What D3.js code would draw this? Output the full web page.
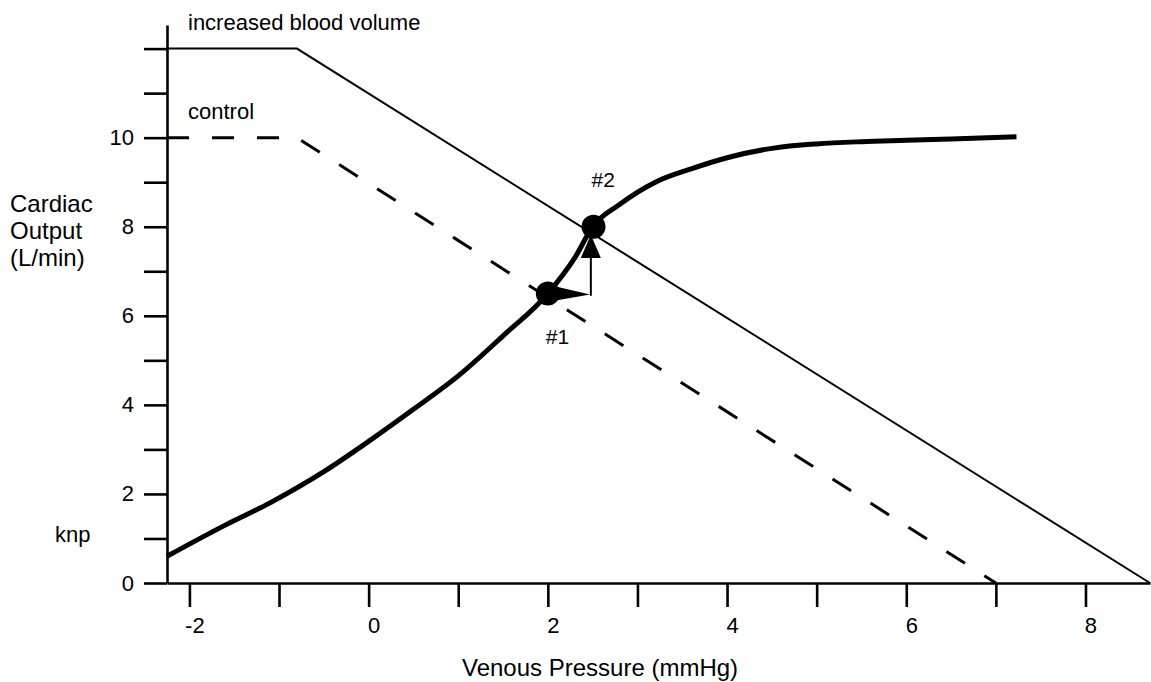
<!DOCTYPE html>
<html lang="en">
  <head>
    <meta charset="UTF-8" />
    <script src="https://cdnjs.cloudflare.com/ajax/libs/d3/7.8.5/d3.min.js"></script>
    <title>Cardiac output vs venous pressure</title>
    <style>
      html, body { margin: 0; padding: 0; background: #fff; }
      svg { display: block; font-family: "Liberation Sans", Arial, Helvetica, sans-serif; }
    </style>
  </head>
  <body>
    <svg width="1151" height="682" class="svg"></svg>
    <script>
      // ---- data ----
      const xTicks = [-2, -1, 0, 1, 2, 3, 4, 5, 6, 7, 8];
      const xTickLabels = ['-2', '', '0', '', '2', '', '4', '', '6', '', '8'];
      const yTicks = [0, 1, 2, 3, 4, 5, 6, 7, 8, 9, 10, 11, 12];
      const yTickLabels = ['0', '', '2', '', '4', '', '6', '', '8', '', '10', '', ''];

      // venous return curves
      const controlX = [-2.25, -0.8, 7.0];
      const controlY = [10, 10, 0];
      const increasedX = [-2.25, -0.8, 8.72];
      const increasedY = [12, 12, 0];

      // cardiac function curve
      const cardiacX = [-2.25, -1.6, -1.1, -0.5, 0, 0.5, 1.0, 1.5, 2.0, 2.3, 2.5, 2.8, 3.2, 3.6, 4.0, 4.5, 5.0, 5.5, 6.0, 6.5, 7.23];
      const cardiacY = [0.6, 1.3, 1.8, 2.5, 3.18, 3.9, 4.65, 5.55, 6.5, 7.3, 8.0, 8.5, 9.0, 9.3, 9.55, 9.76, 9.86, 9.91, 9.94, 9.97, 10.02];

      // equilibrium points
      const pointNames = ['#1', '#2'];
      const pointX = [2.0, 2.51];
      const pointY = [6.5, 8.0];

      const svg = d3.select('.svg');

      const x = d3.scaleLinear().domain([-2.25, 8.72]).range([167, 1150]);
      const y = d3.scaleLinear().domain([0, 12.53]).range([583, 25]);

      const zip = (xs, ys) => xs.map((v, i) => [v, ys[i]]);
      const line = d3.line().x(d => x(d[0])).y(d => y(d[1]));

      // axes
      const yAxis = d3.axisLeft(y)
        .tickValues(yTicks)
        .tickFormat((d, i) => yTickLabels[i])
        .tickSize(23)
        .tickSizeOuter(0)
        .tickPadding(10);
      const xAxis = d3.axisBottom(x)
        .tickValues(xTicks)
        .tickFormat((d, i) => xTickLabels[i])
        .tickSize(24)
        .tickSizeOuter(0)
        .tickPadding(10);

      const gx = svg.append('g')
        .attr('transform', `translate(0, ${y(0)})`)
        .call(xAxis);
      const gy = svg.append('g')
        .attr('transform', `translate(${x.range()[0]}, 0)`)
        .call(yAxis);

      [gx, gy].forEach(g => {
        g.selectAll('path, line').attr('stroke', '#000').attr('stroke-width', 2.6);
        g.selectAll('text').attr('font-size', 22).attr('fill', '#000')
          .attr('font-family', '"Liberation Sans", Arial, Helvetica, sans-serif');
      });
      gx.selectAll('text').attr('dx', 5);

      // venous return lines
      svg.append('path')
        .datum(zip(controlX, controlY))
        .attr('d', line)
        .attr('fill', 'none')
        .attr('stroke', '#000')
        .attr('stroke-width', 3)
        .attr('stroke-dasharray', '22,23');

      svg.append('path')
        .datum(zip(increasedX, increasedY))
        .attr('d', line)
        .attr('fill', 'none')
        .attr('stroke', '#000')
        .attr('stroke-width', 2);

      // cardiac function curve
      svg.append('path')
        .datum(zip(cardiacX, cardiacY))
        .attr('d', line.curve(d3.curveMonotoneX))
        .attr('fill', 'none')
        .attr('stroke', '#000')
        .attr('stroke-width', 5);

      // arrows between the two points
      const ax = 2.48;
      svg.append('path')
        .attr('d', `M${x(pointX[0]) + 8},${y(pointY[0]) - 7} L${x(2.47)},${y(pointY[0]) + 1} L${x(pointX[0]) + 8},${y(pointY[0]) + 7} Z`)
        .attr('fill', '#000');
      svg.append('line')
        .attr('x1', x(ax)).attr('x2', x(ax))
        .attr('y1', y(6.45)).attr('y2', y(7.3))
        .attr('stroke', '#000')
        .attr('stroke-width', 2);
      svg.append('path')
        .attr('d', `M${x(ax) - 10},${y(7.3)} L${x(ax)},${y(7.82)} L${x(ax) + 10},${y(7.3)} Z`)
        .attr('fill', '#000');

      svg.selectAll('circle.pt')
        .data(zip(pointX, pointY))
        .enter()
        .append('circle')
        .attr('class', 'pt')
        .attr('cx', d => x(d[0]))
        .attr('cy', d => y(d[1]))
        .attr('r', 12)
        .attr('fill', '#000');

      // annotations
      const txt = (s, tx, ty, size, anchor) => svg.append('text')
        .text(s)
        .attr('x', tx).attr('y', ty)
        .attr('font-size', size)
        .attr('text-anchor', anchor || 'start')
        .attr('fill', '#000');

      txt(pointNames[0], x(pointX[0]) - 2, y(pointY[0]) + 50, 21);
      txt(pointNames[1], x(pointX[1]) - 2, y(pointY[1]) - 40, 21);
      txt('increased blood volume', 188, 30, 22);
      txt('control', 188, 119, 22);
      txt('knp', 55, 542, 22);

      txt('Cardiac', 10, 212, 24);
      txt('Output', 10, 239, 24);
      txt('(L/min)', 10, 266, 24);
      txt('Venous Pressure (mmHg)', 600, 676, 24, 'middle');
    </script>
  </body>
</html>
